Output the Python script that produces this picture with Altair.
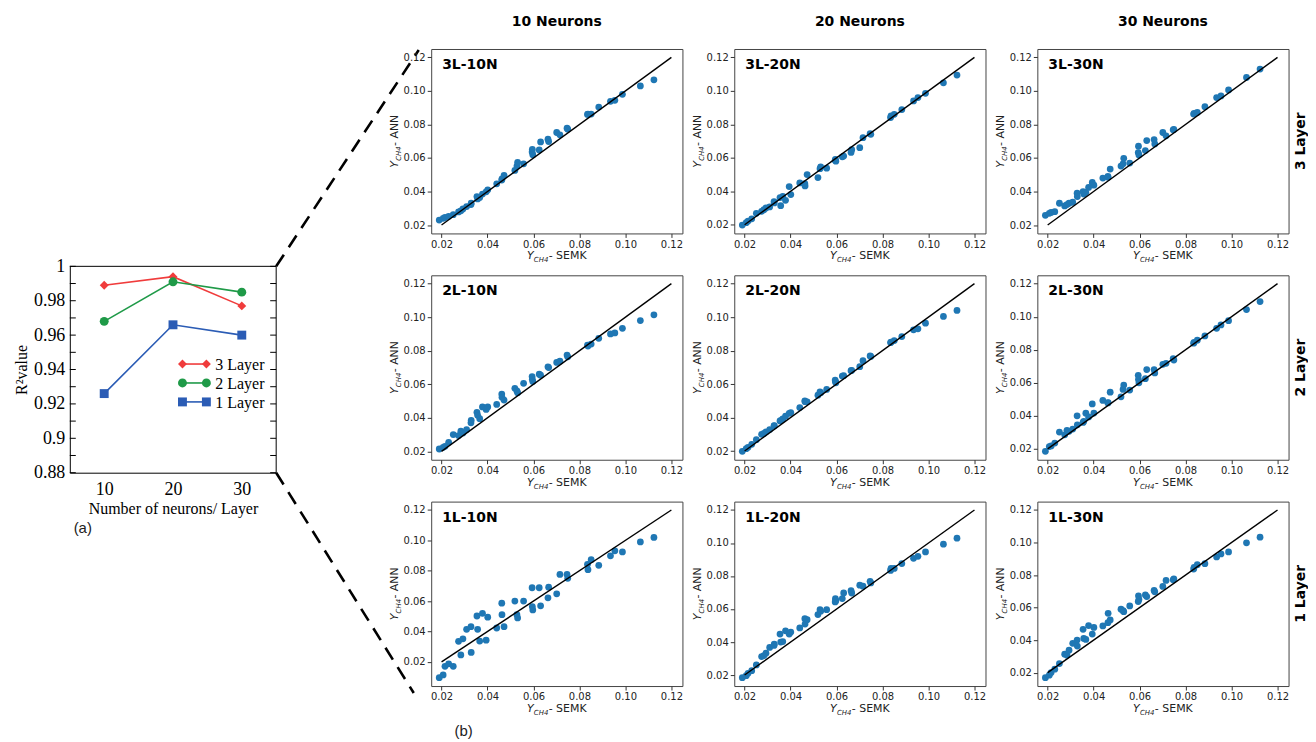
import altair as alt
import pandas as pd

# ---------------- data : panel (a) ----------------
NEURONS = [10, 20, 30]
R2_3LAYER = [0.989, 0.994, 0.977]
R2_2LAYER = [0.968, 0.991, 0.985]
R2_1LAYER = [0.926, 0.966, 0.960]
SERIES = ["3 Layer", "2 Layer", "1 Layer"]
R2_LABEL_VALUES = [0.88, 0.90, 0.92, 0.94, 0.96, 0.98, 1.00]
R2_TICK_VALUES = [0.88, 0.89, 0.90, 0.91, 0.92, 0.93, 0.94, 0.95, 0.96, 0.97, 0.98, 0.99, 1.00]

# ---------------- data : panels (b) ----------------
SEMK = [0.0190, 0.0207, 0.0215, 0.0231, 0.0251, 0.0274, 0.0284, 0.0293, 0.0309, 0.0328,
        0.0329, 0.0354, 0.0357, 0.0366, 0.0378, 0.0394, 0.0401, 0.0440, 0.0462, 0.0463,
        0.0472, 0.0519, 0.0528, 0.0531, 0.0557, 0.0594, 0.0595, 0.0597, 0.0625, 0.0631,
        0.0663, 0.0666, 0.0701, 0.0715, 0.0746, 0.0749, 0.0835, 0.0837, 0.0851, 0.0884,
        0.0935, 0.0954, 0.0987, 0.1065, 0.1124]

ANN_3L_10N = [0.0230, 0.0240, 0.0245, 0.0252, 0.0262, 0.0278, 0.0285, 0.0296, 0.0310, 0.0322,
              0.0330, 0.0370, 0.0356, 0.0365, 0.0385, 0.0398, 0.0410, 0.0446, 0.0468, 0.0475,
              0.0496, 0.0526, 0.0552, 0.0574, 0.0565, 0.0636, 0.0652, 0.0620, 0.0648, 0.0696,
              0.0712, 0.0698, 0.0752, 0.0738, 0.0778, 0.0772, 0.0860, 0.0862, 0.0862, 0.0904,
              0.0938, 0.0944, 0.0980, 0.1030, 0.1066]
ANN_3L_20N = [0.0198, 0.0212, 0.0222, 0.0235, 0.0268, 0.0280, 0.0290, 0.0300, 0.0306, 0.0338,
              0.0330, 0.0362, 0.0314, 0.0370, 0.0346, 0.0428, 0.0380, 0.0450, 0.0445, 0.0432,
              0.0500, 0.0482, 0.0535, 0.0545, 0.0538, 0.0585, 0.0590, 0.0580, 0.0606, 0.0610,
              0.0632, 0.0648, 0.0660, 0.0720, 0.0744, 0.0740, 0.0840, 0.0850, 0.0860, 0.0888,
              0.0940, 0.0960, 0.0985, 0.1048, 0.1094]
ANN_3L_30N = [0.0258, 0.0270, 0.0275, 0.0280, 0.0330, 0.0314, 0.0322, 0.0330, 0.0336, 0.0390,
              0.0370, 0.0400, 0.0385, 0.0395, 0.0424, 0.0454, 0.0438, 0.0480, 0.0490, 0.0485,
              0.0534, 0.0552, 0.0565, 0.0598, 0.0570, 0.0632, 0.0670, 0.0618, 0.0644, 0.0704,
              0.0710, 0.0684, 0.0752, 0.0732, 0.0768, 0.0770, 0.0862, 0.0866, 0.0872, 0.0906,
              0.0960, 0.0970, 0.1006, 0.1080, 0.1130]
ANN_2L_10N = [0.0214, 0.0224, 0.0230, 0.0254, 0.0300, 0.0294, 0.0320, 0.0310, 0.0330, 0.0370,
              0.0385, 0.0433, 0.0415, 0.0395, 0.0465, 0.0450, 0.0465, 0.0480, 0.0542, 0.0522,
              0.0506, 0.0576, 0.0560, 0.0550, 0.0606, 0.0646, 0.0630, 0.0616, 0.0660, 0.0654,
              0.0704, 0.0700, 0.0730, 0.0738, 0.0774, 0.0764, 0.0834, 0.0828, 0.0840, 0.0874,
              0.0900, 0.0906, 0.0934, 0.0980, 0.1014]
ANN_2L_20N = [0.0198, 0.0214, 0.0222, 0.0240, 0.0268, 0.0300, 0.0305, 0.0315, 0.0328, 0.0350,
              0.0352, 0.0380, 0.0382, 0.0392, 0.0408, 0.0425, 0.0430, 0.0460, 0.0500, 0.0495,
              0.0494, 0.0534, 0.0554, 0.0548, 0.0568, 0.0624, 0.0615, 0.0608, 0.0648, 0.0650,
              0.0680, 0.0682, 0.0704, 0.0740, 0.0768, 0.0765, 0.0848, 0.0850, 0.0860, 0.0884,
              0.0924, 0.0930, 0.0964, 0.1004, 0.1040]
ANN_2L_30N = [0.0185, 0.0214, 0.0218, 0.0235, 0.0302, 0.0285, 0.0312, 0.0306, 0.0320, 0.0400,
              0.0346, 0.0360, 0.0367, 0.0416, 0.0393, 0.0472, 0.0417, 0.0493, 0.0478, 0.0480,
              0.0543, 0.0515, 0.0560, 0.0586, 0.0556, 0.0645, 0.0620, 0.0600, 0.0625, 0.0680,
              0.0680, 0.0660, 0.0712, 0.0718, 0.0747, 0.0738, 0.0840, 0.0844, 0.0858, 0.0884,
              0.0930, 0.0950, 0.0976, 0.1043, 0.1092]
ANN_1L_10N = [0.0096, 0.0114, 0.0171, 0.0187, 0.0171, 0.0335, 0.0246, 0.0352, 0.0414, 0.0432,
              0.0262, 0.0502, 0.0414, 0.0337, 0.0520, 0.0343, 0.0494, 0.0423, 0.0586, 0.0511,
              0.0432, 0.0600, 0.0511, 0.0489, 0.0600, 0.0688, 0.0564, 0.0542, 0.0688, 0.0569,
              0.0622, 0.0692, 0.0648, 0.0776, 0.0776, 0.0750, 0.0842, 0.0807, 0.0873, 0.0836,
              0.0898, 0.0931, 0.0924, 0.0990, 0.1019]
ANN_1L_20N = [0.0184, 0.0196, 0.0210, 0.0226, 0.0261, 0.0312, 0.0318, 0.0332, 0.0367, 0.0379,
              0.0387, 0.0448, 0.0400, 0.0403, 0.0468, 0.0448, 0.0460, 0.0485, 0.0541, 0.0509,
              0.0535, 0.0566, 0.0596, 0.0587, 0.0596, 0.0643, 0.0663, 0.0650, 0.0663, 0.0697,
              0.0711, 0.0697, 0.0744, 0.0738, 0.0768, 0.0758, 0.0834, 0.0846, 0.0846, 0.0875,
              0.0907, 0.0919, 0.0946, 0.0993, 0.1029]
ANN_1L_30N = [0.0169, 0.0184, 0.0200, 0.0221, 0.0256, 0.0313, 0.0307, 0.0338, 0.0380, 0.0400,
              0.0363, 0.0466, 0.0410, 0.0404, 0.0489, 0.0437, 0.0478, 0.0487, 0.0507, 0.0565,
              0.0524, 0.0590, 0.0581, 0.0575, 0.0610, 0.0637, 0.0672, 0.0650, 0.0678, 0.0668,
              0.0705, 0.0697, 0.0730, 0.0767, 0.0771, 0.0777, 0.0837, 0.0847, 0.0864, 0.0870,
              0.0911, 0.0930, 0.0942, 0.0998, 0.1033]

PARITY = [0.02, 0.12]
XY_TICKS = [0.02, 0.04, 0.06, 0.08, 0.10, 0.12]
COL_TITLES = ["10 Neurons", "20 Neurons", "30 Neurons"]
ROW_TITLES = ["3 Layer", "2 Layer", "1 Layer"]
PANELS = [
    [("3L-10N", ANN_3L_10N), ("3L-20N", ANN_3L_20N), ("3L-30N", ANN_3L_30N)],
    [("2L-10N", ANN_2L_10N), ("2L-20N", ANN_2L_20N), ("2L-30N", ANN_2L_30N)],
    [("1L-10N", ANN_1L_10N), ("1L-20N", ANN_1L_20N), ("1L-30N", ANN_1L_30N)],
]

# ---------------- styles / layout ----------------
COLORS = ["#f03c3c", "#1f9a48", "#2b5cb5"]
SHAPES = ["diamond", "circle", "square"]
SERIF = "Liberation Serif"
SANS = "DejaVu Sans"
DOT = "#1f77b4"

AW = 207          # panel (a) plot width
A_TOP = 218       # y pixel of R2 = 1.0 inside the left view
AH = 425          # left view height (= y pixel of R2 = 0.88)
PW, PH = 252, 185
XDOM = [0.0155, 0.1248]


def one(val):
    return pd.DataFrame({"t": [val]})


# ---------------- panel (a) ----------------
df_a = pd.DataFrame({
    "n": NEURONS * 3,
    "r2": R2_3LAYER + R2_2LAYER + R2_1LAYER,
    "s": [s for s in SERIES for _ in NEURONS],
})
xa_scale = alt.Scale(domain=[5, 35], nice=False, zero=False)
ya_scale = alt.Scale(domain=[0.88, 1.0], range=[AH, A_TOP], nice=False, zero=False)
xa_axis = alt.Axis(values=NEURONS, title="Number of neurons/ Layer", ticks=False, grid=False,
                   labelFont=SERIF, labelFontSize=18, labelColor="black", labelPadding=8,
                   titleFont=SERIF, titleFontSize=16, titleFontWeight="normal", titleColor="black",
                   titlePadding=2, domainColor="black", domainWidth=1)
ya_axis = alt.Axis(values=R2_LABEL_VALUES, format="~g", title="R²value", ticks=False, grid=False,
                   labelFont=SERIF, labelFontSize=18, labelColor="black", labelPadding=5,
                   titleFont=SERIF, titleFontSize=16, titleFontWeight="normal", titleColor="black",
                   titlePadding=4, domainColor="black", domainWidth=1)
XA = alt.X("n:Q", scale=xa_scale, axis=xa_axis)
YA = alt.Y("r2:Q", scale=ya_scale, axis=ya_axis)
color_a = alt.Color("s:N", scale=alt.Scale(domain=SERIES, range=COLORS), legend=None)
shape_a = alt.Shape("s:N", scale=alt.Scale(domain=SERIES, range=SHAPES), legend=None)

a_lines = alt.Chart(df_a).mark_line(strokeWidth=1.6).encode(x=XA, y=YA, color=color_a)
a_pts = alt.Chart(df_a).mark_point(filled=True, size=80, opacity=1).encode(
    x=XA, y=YA, color=color_a, shape=shape_a)

tick_df = pd.DataFrame({"r2": R2_TICK_VALUES})
a_ticks_l = alt.Chart(tick_df).mark_rule(color="black").encode(
    x=alt.value(0), x2=alt.value(6), y=YA)
a_ticks_r = alt.Chart(tick_df).mark_rule(color="black").encode(
    x=alt.value(AW - 6), x2=alt.value(AW), y=YA)
a_top = alt.Chart(one(1)).mark_rule(color="black").encode(
    x=alt.value(0), x2=alt.value(AW), y=alt.value(A_TOP))
a_right = alt.Chart(one(1)).mark_rule(color="black").encode(
    x=alt.value(AW), y=alt.value(A_TOP), y2=alt.value(AH))

legend_layers = []
for i, s in enumerate(SERIES):
    ly = 316 + 19 * i
    legend_layers.append(alt.Chart(one(s)).mark_rule(color=COLORS[i], strokeWidth=1.6).encode(
        x=alt.value(113), x2=alt.value(137), y=alt.value(ly)))
    for lx in (113, 137):
        legend_layers.append(alt.Chart(one(s)).mark_point(
            filled=True, size=80, opacity=1, shape=SHAPES[i], color=COLORS[i]).encode(
            x=alt.value(lx), y=alt.value(ly)))
    legend_layers.append(alt.Chart(one(s)).mark_text(
        align="left", baseline="middle", font=SERIF, fontSize=16, color="black").encode(
        x=alt.value(146), y=alt.value(ly + 1), text="t:N"))

lab_a = alt.Chart(one("(a)")).mark_text(
    align="center", baseline="middle", font="Liberation Sans", fontSize=15, color="#222").encode(
    x=alt.value(13), y=alt.value(AH + 55), text="t:N")
lab_b = alt.Chart(one("(b)")).mark_text(
    align="center", baseline="middle", font="Liberation Sans", fontSize=15, color="#222").encode(
    x=alt.value(395), y=alt.value(AH + 259), text="t:N")

conn_top = alt.Chart(one(1)).mark_rule(color="black", strokeWidth=2.6, strokeDash=[14, 9]).encode(
    x=alt.value(AW), y=alt.value(A_TOP), x2=alt.value(350), y2=alt.value(1))
conn_bot = alt.Chart(one(1)).mark_rule(color="black", strokeWidth=2.6, strokeDash=[14, 9]).encode(
    x=alt.value(AW), y=alt.value(AH), x2=alt.value(345), y2=alt.value(646))

left = alt.layer(a_lines, a_pts, a_ticks_l, a_ticks_r, a_top, a_right, *legend_layers,
                 lab_a, lab_b, conn_top, conn_bot).properties(
    width=AW, height=AH, view=alt.ViewBackground(strokeWidth=0))


# ---------------- panels (b) ----------------
def axis_title_layers(rest, rest_w, x0, y0, angle):
    y_w, sub_w = 6.9, 14.9
    start = -(y_w + sub_w + rest_w) / 2
    specs = [("Y", "italic", 11, start, 0),
             ("CH4", "italic", 7, start + y_w, 3),
             (rest, "normal", 11, start + y_w + sub_w, 0)]
    out = []
    for txt, style, size, dx, dy in specs:
        out.append(alt.Chart(one(txt)).mark_text(
            align="left", baseline="alphabetic", font=SANS, fontSize=size, fontStyle=style,
            color="#222", angle=angle, dx=dx, dy=dy).encode(
            x=alt.value(x0), y=alt.value(y0), text="t:N"))
    return out


def panel(r, c):
    name, ys = PANELS[r][c]
    lo = min(min(ys), PARITY[0])
    hi = PARITY[1]
    m = 0.05 * (hi - lo)
    ax = alt.Axis(values=XY_TICKS, format=".2f", title=None, grid=False, domain=False,
                  tickSize=4, tickColor="#333", labelFont=SANS, labelFontSize=10,
                  labelColor="#222", labelPadding=2)
    X = alt.X("semk:Q", scale=alt.Scale(domain=XDOM, nice=False, zero=False), axis=ax)
    Y = alt.Y("ann:Q", scale=alt.Scale(domain=[lo - m, hi + m], nice=False, zero=False), axis=ax)
    df = pd.DataFrame({"semk": SEMK, "ann": ys})
    pts = alt.Chart(df).mark_circle(size=46, color=DOT, opacity=1).encode(x=X, y=Y)
    par = alt.Chart(pd.DataFrame({"semk": PARITY, "ann": PARITY})).mark_line(
        color="black", strokeWidth=1.4).encode(x=X, y=Y)
    lab = alt.Chart(one(name)).mark_text(
        align="left", baseline="alphabetic", font=SANS, fontSize=14, fontWeight="bold",
        color="black").encode(x=alt.value(11), y=alt.value(20), text="t:N")
    layers = [pts, par, lab]
    layers += axis_title_layers("- SEMK", 38.1, PW / 2, PH + 26, 0)
    layers += axis_title_layers("- ANN", 31.4, -33, PH / 2, 270)
    if c == 2:
        layers.append(alt.Chart(one(ROW_TITLES[r])).mark_text(
            align="center", baseline="middle", font=SANS, fontSize=14, fontWeight="bold",
            color="black", angle=270).encode(x=alt.value(PW + 12), y=alt.value(PH / 2), text="t:N"))
    props = dict(width=PW, height=PH)
    if r == 0:
        props["title"] = alt.TitleParams(COL_TITLES[c], font=SANS, fontSize=14, fontWeight="bold",
                                         color="black", anchor="middle", offset=20)
    return alt.layer(*layers).properties(**props)


grid = alt.concat(*[panel(r, c) for r in range(3) for c in range(3)], columns=3,
                  spacing={"row": 42, "column": 52}, bounds="flush")

chart = alt.hconcat(left, grid, spacing=155.5, bounds="flush").properties(
    padding={"left": 5, "top": 5, "right": 0, "bottom": 0}
).configure_view(stroke="#444", strokeWidth=1)

chart.save("out.html", embed_options={"renderer": "svg", "actions": False})
